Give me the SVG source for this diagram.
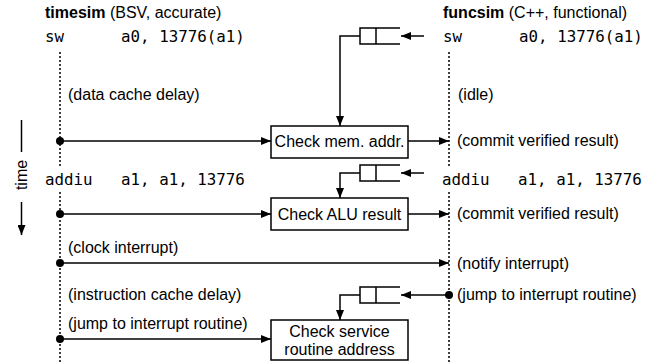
<svg xmlns="http://www.w3.org/2000/svg" width="652" height="364" viewBox="0 0 652 364">
<defs>
<marker id="ah" markerUnits="userSpaceOnUse" markerWidth="10" markerHeight="8" refX="10" refY="4" orient="auto">
<path d="M0,0 L10,4 L0,8 z" fill="#000"/>
</marker>
<style>
.s{font-family:"Liberation Sans",Arial,sans-serif;font-size:16px;fill:#000}
.b{font-weight:bold}
.m{font-family:"DejaVu Sans Mono",monospace;font-size:15.8px;fill:#000;white-space:pre}
.ln{stroke:#000;stroke-width:1.5;fill:none}
.ar{stroke:#000;stroke-width:1.5;fill:none;marker-end:url(#ah)}
.dot{stroke:#000;stroke-width:1.5;stroke-dasharray:2,2;fill:none}
.box{stroke:#000;stroke-width:1.5;fill:#fff}
.c{text-anchor:middle}
</style>
</defs>
<rect width="652" height="364" fill="#fff"/>

<g id="lifelines">
<path class="dot" d="M60,52 V167 M60,192 V364"/>
<path class="dot" d="M449,52 V167 M449,192 V364"/>
</g>

<g id="time-axis">
<path class="ln" d="M21.5,120 V152"/>
<path class="ar" d="M21.5,202 V235"/>
<text class="s c" transform="translate(27,175) rotate(-90)">time</text>
</g>

<g id="headers">
<text class="s" x="45" y="18"><tspan class="b">timesim</tspan> (BSV, accurate)</text>
<text class="s" x="443" y="18"><tspan class="b">funcsim</tspan> (C++, functional)</text>
<text class="m" x="45" y="42">sw      a0, 13776(a1)</text>
<text class="m" x="443" y="42">sw      a0, 13776(a1)</text>
<text class="m" x="45" y="185">addiu   a1, a1, 13776</text>
<text class="m" x="442" y="185">addiu   a1, a1, 13776</text>
</g>

<g id="labels">
<text class="s" x="68" y="100">(data cache delay)</text>
<text class="s" x="458" y="100">(idle)</text>
<text class="s" x="457" y="146">(commit verified result)</text>
<text class="s" x="457" y="219">(commit verified result)</text>
<text class="s" x="68" y="253">(clock interrupt)</text>
<text class="s" x="457" y="269">(notify interrupt)</text>
<text class="s" x="68" y="300">(instruction cache delay)</text>
<text class="s" x="457" y="300">(jump to interrupt routine)</text>
<text class="s" x="68" y="329">(jump to interrupt routine)</text>
</g>

<g id="queue1">
<path class="ln" d="M400,28 H360 V44 H400 M376,28 V44"/>
</g>
<g id="queue2">
<path class="ln" d="M400,165 H360 V181 H400 M376,165 V181"/>
</g>
<g id="queue3">
<path class="ln" d="M400,287 H360 V303 H400 M376,287 V303"/>
</g>

<g id="check-mem">
<rect class="box" x="271" y="126" width="137" height="32"/>
<text class="s c" x="339.5" y="147">Check mem. addr.</text>
</g>
<g id="check-alu">
<rect class="box" x="271" y="198" width="137" height="32"/>
<text class="s c" x="339.5" y="220">Check ALU result</text>
</g>
<g id="check-service">
<rect class="box" x="271" y="320" width="137" height="40"/>
<text class="s c" x="339.5" y="337">Check service</text>
<text class="s c" x="339.5" y="355">routine address</text>
</g>

<g id="connectors">
<path class="ar" d="M424,36 H401"/>
<path class="ar" d="M360,36 H340 V126"/>
<circle cx="60" cy="141" r="4"/>
<path class="ar" d="M60,141 H271"/>
<path class="ar" d="M408,141 H449"/>
<path class="ar" d="M424,173 H401"/>
<path class="ar" d="M360,173 H340 V198"/>
<circle cx="60" cy="214" r="4"/>
<path class="ar" d="M60,214 H271"/>
<path class="ar" d="M408,214 H449"/>
<circle cx="60" cy="263" r="4"/>
<path class="ar" d="M60,263 H449"/>
<circle cx="449" cy="295" r="4"/>
<path class="ar" d="M449,295 H401"/>
<path class="ar" d="M360,295 H340 V320"/>
<circle cx="60" cy="339" r="4"/>
<path class="ar" d="M60,339 H271"/>
</g>
</svg>
